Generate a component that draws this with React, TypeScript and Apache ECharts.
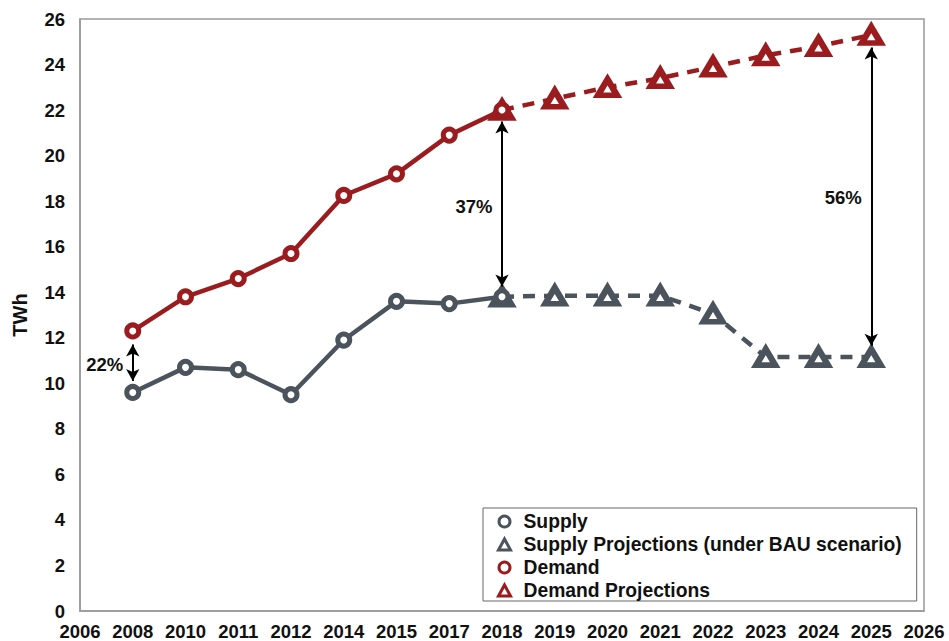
import React, { useEffect, useRef } from "react";
import * as echarts from "echarts";

const categories = ["2006", "2008", "2010", "2011", "2012", "2014", "2015", "2017", "2018", "2019", "2020", "2021", "2022", "2023", "2024", "2025", "2026"];
const supply = [null, 9.6, 10.7, 10.6, 9.5, 11.9, 13.6, 13.5, 13.8, null, null, null, null, null, null, null, null];
const supplyProj = [null, null, null, null, null, null, null, null, 13.8, 13.85, 13.85, 13.85, 13.05, 11.15, 11.15, 11.15, null];
const demand = [null, 12.3, 13.8, 14.6, 15.7, 18.25, 19.2, 20.9, 22.0, null, null, null, null, null, null, null, null];
const demandProj = [null, null, null, null, null, null, null, null, 22.0, 22.5, 23.0, 23.4, 23.9, 24.4, 24.8, 25.3, null];
const yTicks = [0, 26, 2];

const gapCats = ["2008", "2018", "2025"];
const gapTop = [11.7, 21.5, 24.75];
const gapBottom = [10.1, 14.25, 11.65];
const gapLabels = ["22%", "37%", "56%"];
const gapLabelY = [10.83, 17.76, 18.16];

const RED = "#9b1c1f";
const GRAY = "#4b535d";
const FONT = "Liberation Sans";

export default function App() {
  const ref = useRef<HTMLDivElement>(null);
  useEffect(() => {
    if (!ref.current) return;
    const chart = echarts.init(ref.current, null, { renderer: "svg" });
    const circleStyle = (c: string) => ({ color: "#fff", borderColor: c, borderWidth: 5 });
    const triStyle = (c: string) => ({ color: "#fff", borderColor: c, borderWidth: 6 });
    chart.setOption({
      animation: false,
      backgroundColor: "#fff",
      textStyle: { fontFamily: FONT },
      grid: { left: 80, right: 25, top: 19, bottom: 29, show: true, borderColor: "#999", borderWidth: 1.5 },
      xAxis: {
        type: "category",
        data: categories,
        boundaryGap: false,
        axisLine: { lineStyle: { color: "#999", width: 1.5 } },
        axisTick: { show: false },
        axisLabel: { color: "#111", fontWeight: "bold", fontSize: 18.5, margin: 11, fontFamily: FONT, interval: 0 },
        splitLine: { show: false },
      },
      yAxis: {
        type: "value",
        min: yTicks[0],
        max: yTicks[1],
        interval: yTicks[2],
        name: "TWh",
        nameLocation: "middle",
        nameGap: 50,
        nameTextStyle: { color: "#111", fontWeight: "bold", fontSize: 20, fontFamily: FONT },
        axisLine: { show: true, lineStyle: { color: "#999", width: 1.5 } },
        axisTick: { show: false },
        axisLabel: { color: "#111", fontWeight: "bold", fontSize: 18.5, margin: 15, fontFamily: FONT },
        splitLine: { show: false },
      },
      legend: {
        orient: "vertical",
        left: 483,
        top: 508,
        padding: [4, 15, 1, 14],
        borderColor: "#666",
        borderWidth: 1,
        backgroundColor: "#fff",
        itemWidth: 12,
        itemHeight: 11,
        itemGap: 4,
        itemStyle: { borderWidth: 3 },
        textStyle: { color: "#111", fontWeight: "bold", fontSize: 19.3, fontFamily: FONT, padding: [0, 0, 0, 8] },
        data: [
          { name: "Supply", icon: "circle" },
          { name: "Supply Projections (under BAU scenario)", icon: "triangle" },
          { name: "Demand", icon: "circle" },
          { name: "Demand Projections", icon: "triangle" },
        ],
      },
      series: [
        {
          name: "Supply Projections (under BAU scenario)",
          type: "line",
          data: supplyProj,
          symbol: "triangle",
          symbolSize: [19, 16],
          lineStyle: { color: GRAY, width: 4.5, type: [12, 9] },
          itemStyle: triStyle(GRAY),
          z: 2,
        },
        {
          name: "Demand Projections",
          type: "line",
          data: demandProj,
          symbol: "triangle",
          symbolSize: [19, 16],
          lineStyle: { color: RED, width: 4.5, type: [12, 9] },
          itemStyle: triStyle(RED),
          z: 2,
        },
        {
          name: "Supply",
          type: "line",
          data: supply,
          symbol: "circle",
          symbolSize: 12,
          lineStyle: { color: GRAY, width: 4.5 },
          itemStyle: circleStyle(GRAY),
          z: 3,
        },
        {
          name: "Demand",
          type: "line",
          data: demand,
          symbol: "circle",
          symbolSize: 12,
          lineStyle: { color: RED, width: 4.5 },
          itemStyle: circleStyle(RED),
          z: 3,
        },
        {
          name: "gaps",
          type: "line",
          data: [],
          silent: true,
          z: 4,
          markLine: {
            silent: true,
            symbol: ["arrow", "arrow"],
            symbolSize: [10, 12],
            lineStyle: { color: "#000", width: 2, type: "solid" },
            label: { show: false },
            data: gapCats.map((c, i) => [{ coord: [c, gapTop[i]] }, { coord: [c, gapBottom[i]] }]),
          },
        },
        {
          name: "gapLabels",
          type: "scatter",
          symbolSize: 1,
          itemStyle: { color: "rgba(0,0,0,0)", opacity: 1 },
          silent: true,
          z: 5,
          data: gapCats.map((c, i) => ({ value: [c, gapLabelY[i]], name: gapLabels[i] })),
          label: {
            show: true,
            position: "left",
            distance: 9,
            formatter: (p: any) => p.name,
            color: "#111",
            fontWeight: "bold",
            fontSize: 18.5,
            fontFamily: FONT,
          },
        },
      ],
    });
    return () => chart.dispose();
  }, []);
  return <div ref={ref} style={{ position: "fixed", left: 0, top: 0, width: 949, height: 641 }} />;
}
